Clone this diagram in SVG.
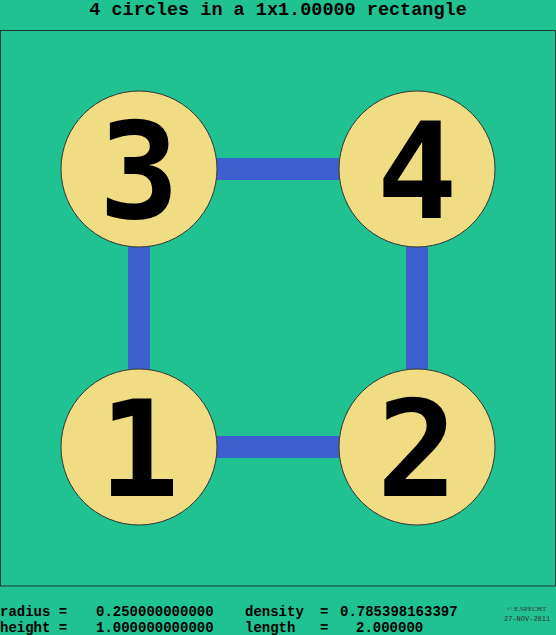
<svg xmlns="http://www.w3.org/2000/svg" width="556" height="635" viewBox="0 0 556 635">
<style>
.c{fill:#f0dc82;stroke:#333;stroke-width:1}
.n{font-family:"DejaVu Sans Mono","Liberation Mono",monospace;font-weight:bold;font-size:134px;text-anchor:middle;fill:#000}
.m{font-family:"Liberation Mono","Courier New",monospace;font-weight:bold;fill:#000}
.b{font-size:14px}
.l{stroke:#3d5fcf;stroke-width:22;fill:none}
</style>
<rect width="556" height="635" fill="#20c292"/>
<text class="m" x="278" y="15" font-size="18.5" text-anchor="middle">4 circles in a 1x1.00000 rectangle</text>
<rect x="0.5" y="30.5" width="555" height="555.5" fill="#20c292" stroke="#1a3a30" stroke-width="1"/>
<g id="connectors">
<line class="l" x1="217" y1="169" x2="339" y2="169"/>
<line class="l" x1="217" y1="447" x2="339" y2="447"/>
<line class="l" x1="139" y1="247" x2="139" y2="369"/>
<line class="l" x1="417" y1="247" x2="417" y2="369"/>
</g>
<g id="n1"><circle class="c" cx="139" cy="447" r="78"/><text class="n" x="139" y="496">1</text></g>
<g id="n2"><circle class="c" cx="417" cy="447" r="78"/><text class="n" x="417" y="496">2</text></g>
<g id="n3"><circle class="c" cx="139" cy="169" r="78"/><text class="n" x="139" y="218">3</text></g>
<g id="n4"><circle class="c" cx="417" cy="169" r="78"/><text class="n" x="417" y="218">4</text></g>
<g class="m b">
<text x="0" y="616">radius =</text>
<text x="96" y="616">0.250000000000</text>
<text x="245" y="616">density</text>
<text x="320" y="616">=</text>
<text x="340" y="616">0.785398163397</text>
<text x="0" y="632">height =</text>
<text x="96" y="632">1.000000000000</text>
<text x="245" y="632">length</text>
<text x="320" y="632">=</text>
<text x="356" y="632">2.000000</text>
</g>
<text x="507" y="611" font-family="Liberation Serif,serif" font-size="7" fill="#333">© E.SPECHT</text>
<text x="504" y="621" font-family="Liberation Mono,monospace" font-size="7" fill="#333">27-NOV-2011</text>
</svg>
